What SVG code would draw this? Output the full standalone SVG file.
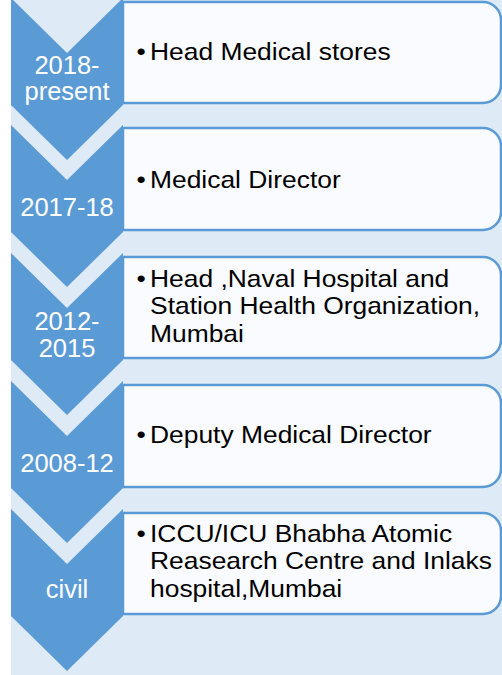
<svg xmlns="http://www.w3.org/2000/svg" width="502" height="675" viewBox="0 0 502 675">
<style>
.chev{fill:#5B9BD5;}
.box{fill:#F9FBFE;stroke:#5B9BD5;stroke-width:2.5;}
.lbl{font-family:"Liberation Sans",Arial,sans-serif;font-size:25.5px;fill:#FFFFFF;text-anchor:middle;}
.txt{font-family:"Liberation Sans",Arial,sans-serif;font-size:24px;fill:#000000;}
</style>
<rect x="0" y="0" width="502" height="675" fill="#FFFFFF"/>
<rect x="11" y="0" width="491" height="675" fill="#DEEAF6"/>
<g id="connectors"></g>
<g id="node1">
<path class="chev" d="M11,-2 L67,53 L123,-2 L123,105 L67,160 L11,105 Z"/>
<path class="box" d="M123,2 H483 A18,18 0 0 1 501,20 V85 A18,18 0 0 1 483,103 H123 Z"/>
<text class="lbl" x="67" y="74">2018-</text>
<text class="lbl" x="67" y="100">present</text>
<g transform="scale(1.1,1)">
<text class="txt" x="124" y="60">•</text>
<text class="txt" x="136.4" y="60">Head Medical stores</text>
</g>
</g>
<g id="node2">
<path class="chev" d="M11,125 L67,180 L123,125 L123,232 L67,287 L11,232 Z"/>
<path class="box" d="M123,128 H483 A18,18 0 0 1 501,146 V212 A18,18 0 0 1 483,230 H123 Z"/>
<text class="lbl" x="67" y="216">2017-18</text>
<g transform="scale(1.1,1)">
<text class="txt" x="124" y="188">•</text>
<text class="txt" x="136.4" y="188">Medical Director</text>
</g>
</g>
<g id="node3">
<path class="chev" d="M11,253 L67,308 L123,253 L123,360 L67,415 L11,360 Z"/>
<path class="box" d="M123,257 H483 A18,18 0 0 1 501,275 V340 A18,18 0 0 1 483,358 H123 Z"/>
<text class="lbl" x="67" y="330">2012-</text>
<text class="lbl" x="67" y="357">2015</text>
<g transform="scale(1.1,1)">
<text class="txt" x="124" y="287">•</text>
<text class="txt" x="136.4" y="287">Head ,Naval Hospital and</text>
<text class="txt" x="136.4" y="314">Station Health Organization,</text>
<text class="txt" x="136.4" y="342">Mumbai</text>
</g>
</g>
<g id="node4">
<path class="chev" d="M11,381 L67,436 L123,381 L123,488 L67,543 L11,488 Z"/>
<path class="box" d="M123,385 H483 A18,18 0 0 1 501,403 V469 A18,18 0 0 1 483,487 H123 Z"/>
<text class="lbl" x="67" y="472">2008-12</text>
<g transform="scale(1.1,1)">
<text class="txt" x="124" y="443">•</text>
<text class="txt" x="136.4" y="443">Deputy Medical Director</text>
</g>
</g>
<g id="node5">
<path class="chev" d="M11,509 L67,564 L123,509 L123,616 L67,671 L11,616 Z"/>
<path class="box" d="M123,513 H483 A18,18 0 0 1 501,531 V596 A18,18 0 0 1 483,614 H123 Z"/>
<text class="lbl" x="67" y="598">civil</text>
<g transform="scale(1.1,1)">
<text class="txt" x="124" y="542">•</text>
<text class="txt" x="136.4" y="542">ICCU/ICU Bhabha Atomic</text>
<text class="txt" x="136.4" y="569">Reasearch Centre and Inlaks</text>
<text class="txt" x="136.4" y="597">hospital,Mumbai</text>
</g>
</g>
</svg>
